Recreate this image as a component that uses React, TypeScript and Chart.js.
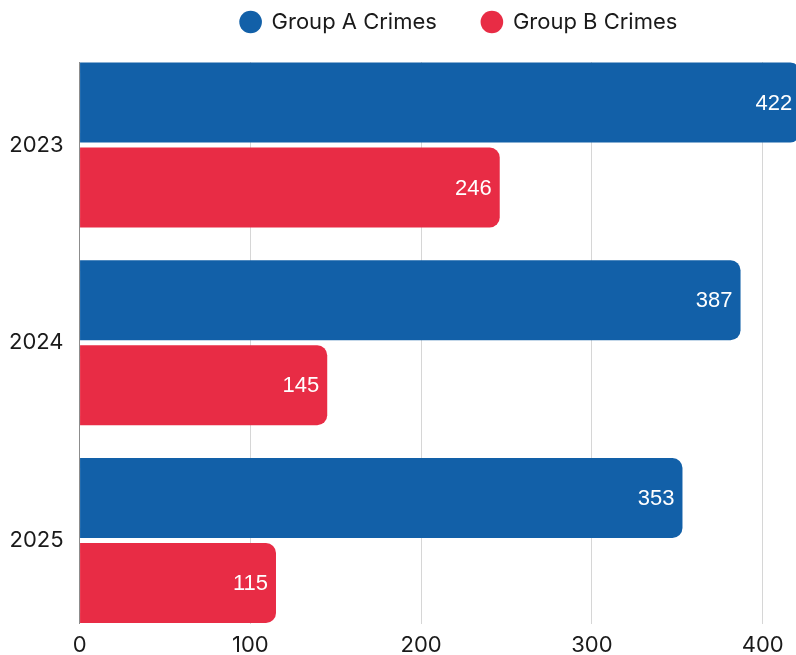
import React, { useEffect, useRef } from "react";
import { Chart, registerables } from "chart.js";

Chart.register(...registerables);

const categories = ["2023", "2024", "2025"];
const groupA = [422, 387, 353];
const groupB = [246, 145, 115];
const seriesNames = ["Group A Crimes", "Group B Crimes"];
const xTicks = [0, 100, 200, 300, 400];

const BLUE = "#1260A8";
const RED = "#E82C45";
const FONT = "Inter, 'Open Sans', sans-serif";

const valueLabels = {
  id: "valueLabels",
  afterDatasetsDraw(chart: any) {
    const ctx = chart.ctx;
    ctx.save();
    ctx.font = "22px 'Liberation Sans', Arial, sans-serif";
    ctx.fillStyle = "#ffffff";
    ctx.textAlign = "right";
    ctx.textBaseline = "middle";
    chart.data.datasets.forEach((ds: any, di: number) => {
      const meta = chart.getDatasetMeta(di);
      meta.data.forEach((el: any, i: number) => {
        const { x, y } = el.getProps(["x", "y"], true);
        ctx.fillText(String(ds.data[i].x), x - 8, y + 1);
      });
    });
    ctx.restore();
  },
};

export default function App() {
  const ref = useRef<HTMLCanvasElement | null>(null);
  useEffect(() => {
    if (!ref.current) return;
    const chart = new Chart(ref.current, {
      type: "bar",
      data: {
        labels: categories,
        datasets: [
          {
            label: seriesNames[0],
            data: groupA.map((v, i) => ({ x: v, y: i })),
            backgroundColor: BLUE,
            borderRadius: 10,
            borderSkipped: "start",
            categoryPercentage: 0.86,
            barPercentage: 0.94,
          },
          {
            label: seriesNames[1],
            data: groupB.map((v, i) => ({ x: v, y: i })),
            backgroundColor: RED,
            borderRadius: 10,
            borderSkipped: "start",
            categoryPercentage: 0.86,
            barPercentage: 0.94,
          },
        ],
      },
      options: {
        indexAxis: "y",
        animation: false,
        responsive: true,
        maintainAspectRatio: false,
        layout: { padding: { top: -34, left: -7, right: 0, bottom: 0 } },
        plugins: {
          legend: {
            position: "top",
            labels: {
              usePointStyle: true,
              pointStyle: "circle",
              boxWidth: 20,
              boxHeight: 16,
              padding: 45,
              color: "#1a1a1a",
              font: { family: FONT, size: 22 },
            },
          },
          title: {
            display: true,
            text: "",
            weight: 500,
            padding: 0,
            font: { size: 16, lineHeight: 1.1875 },
          },
          tooltip: { enabled: false },
        },
        scales: {
          x: {
            type: "linear",
            min: 0,
            max: 495,
            afterBuildTicks: (axis: any) => {
              axis.ticks = xTicks.map((v) => ({ value: v }));
            },
            ticks: {
              color: "#1a1a1a",
              padding: 9,
              font: { family: FONT, size: 22 },
            },
            grid: { color: "#d6d6d6", drawTicks: false },
            border: { display: false },
          },
          y: {
            type: "linear",
            reverse: true,
            offset: false,
            min: -0.42,
            max: 2.42,
            afterBuildTicks: (axis: any) => {
              axis.ticks = categories.map((_, i) => ({ value: i }));
            },
            ticks: {
              color: "#1a1a1a",
              padding: 16,
              font: { family: FONT, size: 22 },
              callback: (v: any) => categories[v] ?? "",
            },
            grid: { display: false, drawTicks: false, offset: false },
            border: { display: true, color: "#8c8c8c" },
          },
        },
      },
      plugins: [valueLabels],
    });
    return () => chart.destroy();
  }, []);

  return (
    <div
      style={{
        position: "fixed",
        left: 0,
        top: 0,
        width: 796,
        height: 655,
        overflow: "hidden",
        background: "#fff",
      }}
    >
      <div style={{ position: "relative", width: 925, height: 668 }}>
        <canvas ref={ref} />
      </div>
    </div>
  );
}
